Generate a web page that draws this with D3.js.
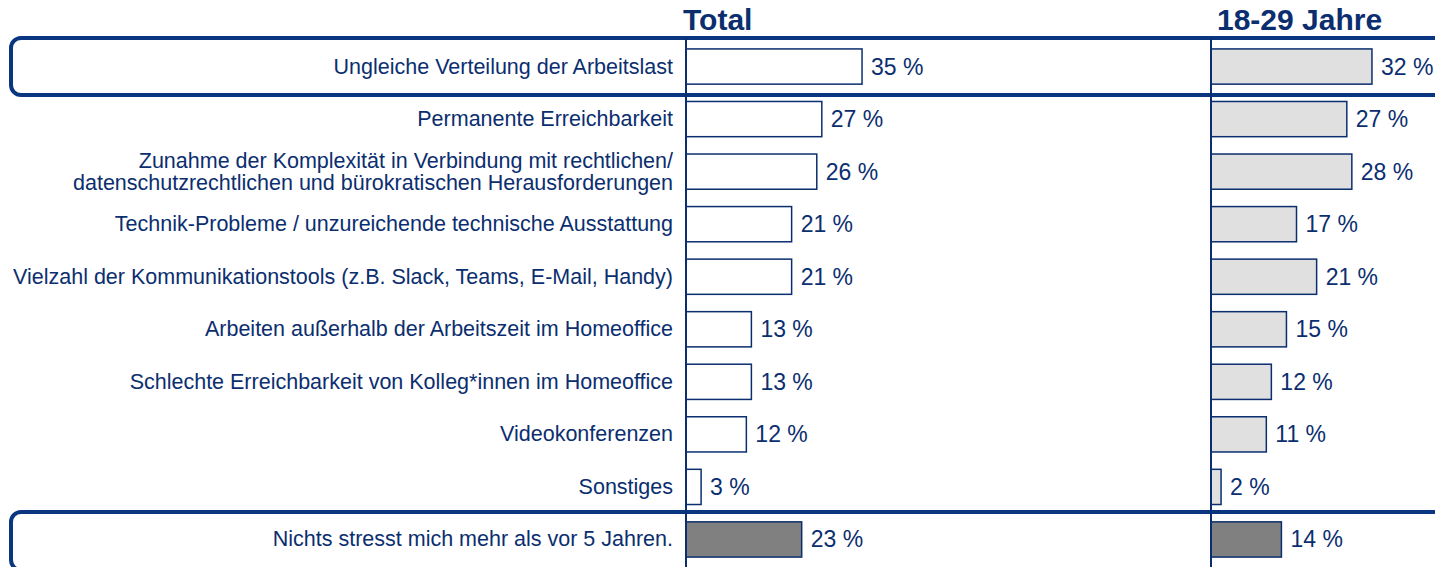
<!DOCTYPE html>
<html>
<head>
  <meta charset="utf-8">
  <script src="https://d3js.org/d3.v7.min.js"></script>
  <style>
    body { margin: 0; background: #fff; }
    text { font-family: "Liberation Sans", Arial, sans-serif; }
  </style>
</head>
<body>
<script>
  // chart data
  var categories = [
    "Ungleiche Verteilung der Arbeitslast",
    "Permanente Erreichbarkeit",
    "Zunahme der Komplexität in Verbindung mit rechtlichen/|datenschutzrechtlichen und bürokratischen Herausforderungen",
    "Technik-Probleme / unzureichende technische Ausstattung",
    "Vielzahl der Kommunikationstools (z.B. Slack, Teams, E-Mail, Handy)",
    "Arbeiten außerhalb der Arbeitszeit im Homeoffice",
    "Schlechte Erreichbarkeit von Kolleg*innen im Homeoffice",
    "Videokonferenzen",
    "Sonstiges",
    "Nichts stresst mich mehr als vor 5 Jahren."
  ];
  var totalValues = [35, 27, 26, 21, 21, 13, 13, 12, 3, 23];
  var youngValues = [32, 27, 28, 17, 21, 15, 12, 11, 2, 14];
  var groupTitles = ["Total", "18-29 Jahre"];

  "use strict";
  var width = 1435, height = 567;
  var navy = "#0b2e6f", boxBlue = "#0a3580";

  var svg = d3.select("body").append("svg")
      .attr("width", width)
      .attr("height", height);

  var y = d3.scaleBand()
      .domain(d3.range(categories.length))
      .range([40, 566])
      .paddingInner(0.33)
      .paddingOuter(0.17);

  var x1 = d3.scaleLinear().domain([0, 100]).range([686, 1189]);
  var x2 = d3.scaleLinear().domain([0, 100]).range([1211, 1714]);

  // highlight boxes (first and last row)
  var boxes = [
    {y0: 38, y1: 95},
    {y0: 512, y1: 570}
  ];
  svg.selectAll("rect.box").data(boxes).enter().append("rect")
      .attr("class", "box")
      .attr("x", 11).attr("y", d => d.y0)
      .attr("width", 1460).attr("height", d => d.y1 - d.y0)
      .attr("rx", 10).attr("ry", 10)
      .attr("fill", "none")
      .attr("stroke", boxBlue)
      .attr("stroke-width", 4);

  // category labels
  var lab = svg.selectAll("text.cat").data(categories).enter().append("text")
      .attr("class", "cat")
      .attr("text-anchor", "end")
      .attr("fill", navy)
      .style("font-size", "21.5px");
  lab.each(function(d, i) {
    var lines = d.split("|");
    var cy = y(i) + y.bandwidth() / 2;
    var t = d3.select(this);
    lines.forEach(function(l, j) {
      t.append("tspan")
        .attr("x", 673)
        .attr("y", cy + 7 + (j - (lines.length - 1) / 2) * 22)
        .text(l);
    });
  });

  function drawGroup(xs, values, fill) {
    var g = svg.append("g");
    g.selectAll("rect").data(values).enter().append("rect")
        .attr("x", xs(0))
        .attr("y", (d, i) => y(i))
        .attr("width", d => xs(d) - xs(0))
        .attr("height", y.bandwidth())
        .attr("fill", (d, i) => i === values.length - 1 ? "#808080" : fill)
        .attr("stroke", navy)
        .attr("stroke-width", 1.5);
    g.selectAll("text").data(values).enter().append("text")
        .attr("x", d => xs(d) + 9)
        .attr("y", (d, i) => y(i) + y.bandwidth() / 2 + 8)
        .attr("fill", navy)
        .style("font-size", "23px")
        .text(d => d + " %");
    g.append("line")
        .attr("x1", xs(0)).attr("x2", xs(0))
        .attr("y1", 38).attr("y2", 567)
        .attr("stroke", navy)
        .attr("stroke-width", 2);
  }
  drawGroup(x1, totalValues, "#ffffff");
  drawGroup(x2, youngValues, "#e0e0e0");

  // group titles
  svg.selectAll("text.title").data(groupTitles).enter().append("text")
      .attr("x", (d, i) => i === 0 ? x1(0) - 3 : x2(0) + 6)
      .attr("y", 30)
      .attr("fill", navy)
      .style("font-size", "30px")
      .style("font-weight", "bold")
      .text(d => d);
</script>
</body>
</html>
